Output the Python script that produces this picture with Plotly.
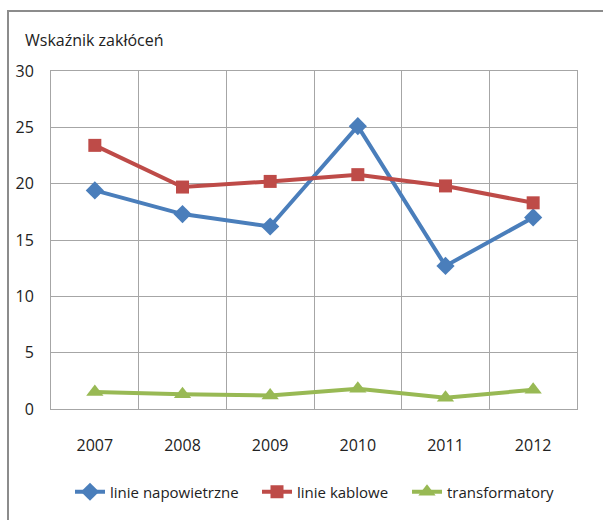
import plotly.graph_objects as go

years = ["2007", "2008", "2009", "2010", "2011", "2012"]
napowietrzne = [19.4, 17.3, 16.2, 25.1, 12.7, 17.0]
kablowe = [23.4, 19.7, 20.2, 20.8, 19.8, 18.3]
transformatory = [1.5, 1.3, 1.2, 1.8, 1.0, 1.7]
y_ticks = [0, 5, 10, 15, 20, 25, 30]

FONT = "Open Sans, Arial"

L, R, T, B = 51, 26, 71, 111
W, H = 603, 520
pw, ph = W - L - R, H - T - B

def px_x(p):
    return (p - L) / pw

def px_y(p):
    return (H - B - p) / ph

fig = go.Figure()
series = [
    ("linie napowietrzne", napowietrzne, "#4a7ebb", "diamond", 14, "legend", 75),
    ("linie kablowe", kablowe, "#be4b48", "square", 13, "legend2", 262),
    ("transformatory", transformatory, "#98b954", "triangle-up", 15, "legend3", 412),
]
legends = {}
for name, vals, col, sym, sz, lg, lx in series:
    fig.add_trace(go.Scatter(
        x=years, y=vals, name=name, mode="lines+markers",
        line=dict(color=col, width=4),
        marker=dict(symbol=sym, size=sz, color=col),
        legend=lg,
    ))
    legends[lg] = dict(orientation="h", x=px_x(lx - 5), xanchor="left",
                       y=px_y(492), yanchor="middle", font=dict(size=15),
                       bgcolor="rgba(0,0,0,0)", borderwidth=0)

fig.update_layout(
    width=W, height=H,
    margin=dict(l=L, r=R, t=T, b=B, autoexpand=False),
    paper_bgcolor="white", plot_bgcolor="white",
    font=dict(family=FONT, size=16, color="#222"),
    showlegend=True,
    **legends,
    xaxis=dict(type="category", tickson="boundaries", showgrid=True, gridcolor="#a6a6a6",
               gridwidth=1, showline=True, linecolor="#a6a6a6", mirror=True,
               ticks="", ticklen=0, range=[-0.5, 5.5], automargin=False,
               ticklabelstandoff=22),
    yaxis=dict(range=[0, 30], tickvals=y_ticks, showgrid=True, gridcolor="#a6a6a6",
               gridwidth=1, showline=True, linecolor="#a6a6a6", mirror=True,
               ticks="", zeroline=False, automargin=False, ticklabelstandoff=13),
    annotations=[dict(text="Wskaźnik zakłóceń", xref="paper", yref="paper",
                      x=px_x(23), y=px_y(40), xanchor="left", yanchor="middle",
                      showarrow=False, font=dict(size=16, color="#222"))],
    shapes=[dict(type="rect", xref="paper", yref="paper",
                 x0=px_x(8), x1=px_x(640), y0=px_y(560), y1=px_y(11),
                 line=dict(color="#8c8c8c", width=2), layer="below")],
)

fig.write_html("out.html", config={"displayModeBar": False},
               post_script="document.body.style.margin='0';")
